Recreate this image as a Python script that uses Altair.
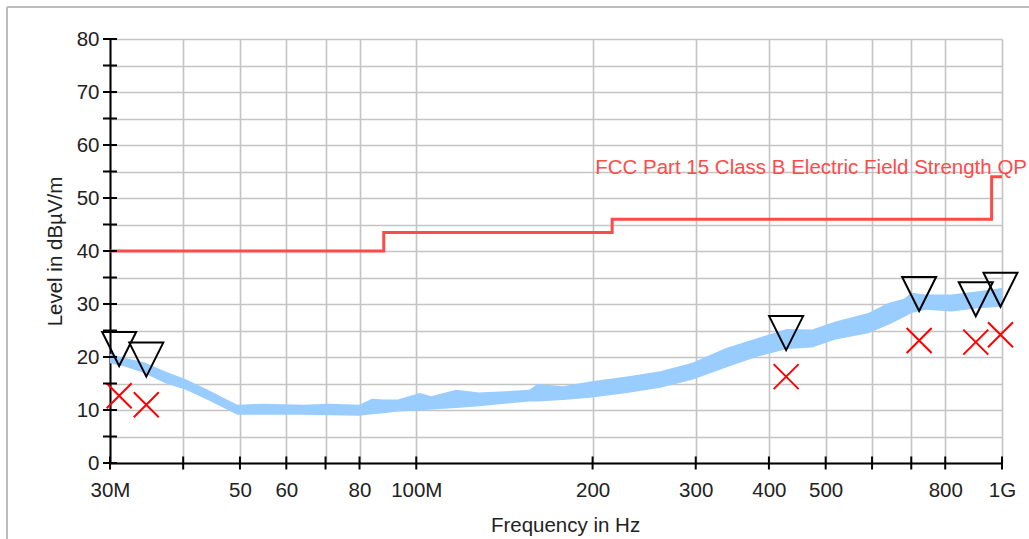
import altair as alt
import pandas as pd

FONT = "Liberation Sans"
FS = 20.5

# axis tick positions
freq_ticks = [30, 40, 50, 60, 70, 80, 100, 200, 300, 400, 500, 600, 700, 800, 1000]
level_ticks = [0, 5, 10, 15, 20, 25, 30, 35, 40, 45, 50, 55, 60, 65, 70, 75, 80]

trace_freq = [30, 31.8, 34.3, 37.2, 40.4, 43.9, 47.5, 49.5, 55, 64, 71, 80, 84, 88, 93, 101.5,
              106, 117, 128, 156, 161, 178, 198, 229, 261, 296, 338, 383, 429, 474, 520, 591,
              640, 680, 700, 741, 820, 911, 1000]
trace_low = [18.8, 18.2, 17.0, 15.1, 13.8, 12.0, 10.1, 9.1, 9.1, 9.1, 9.0, 8.9, 9.2, 9.4, 9.7, 9.9,
             10.1, 10.4, 10.7, 11.6, 11.6, 11.9, 12.3, 13.2, 14.2, 15.7, 18.0, 20.1, 21.5, 21.8, 23.3, 24.5,
             26.1, 27.5, 28.3, 28.9, 28.6, 29.2, 29.5]
trace_high = [20.6, 19.8, 19.0, 17.3, 15.8, 13.9, 12.0, 11.0, 11.2, 11.0, 11.2, 11.0, 12.1, 12.0, 12.0, 13.2,
              12.6, 13.8, 13.3, 13.8, 14.9, 14.5, 15.4, 16.3, 17.3, 18.9, 21.7, 23.6, 25.3, 25.2, 26.7, 28.3,
              30.2, 31.0, 32.1, 31.8, 31.8, 32.4, 33.0]

# limit line
limit_freq = [30, 88, 216, 960, 1000]
limit_level = [40, 43.5, 46, 54, 54]
limit_label = "FCC Part 15 Class B Electric Field Strength QP"

# final measurement markers
marker_freq = [31.1, 34.6, 428, 722, 902, 994]
peak_level = [18.3, 16.3, 21.3, 28.7, 27.7, 29.5]
qp_level = [12.7, 11.0, 16.3, 23.1, 22.8, 24.2]

label_map = {30: "30M", 50: "50", 60: "60", 80: "80", 100: "100M", 200: "200",
             300: "300", 400: "400", 500: "500", 800: "800", 1000: "1G"}
label_expr = " : ".join(
    [f"datum.value == {k} ? '{v}'" for k, v in label_map.items()]) + " : ''"

xscale = alt.Scale(type="log", domain=[30, 1000], nice=False)
yscale = alt.Scale(domain=[0, 80], nice=False, zero=False)

trace_df = pd.DataFrame({"freq": trace_freq, "low": trace_low, "high": trace_high})
limit_df = pd.DataFrame({"freq": limit_freq, "level": limit_level})
mark_df = pd.DataFrame({"freq": marker_freq, "peak": peak_level, "qp": qp_level})
xt_df = pd.DataFrame({"freq": freq_ticks, "level": [0] * len(freq_ticks)})
yt_df = pd.DataFrame({"level": level_ticks, "freq": [30] * len(level_ticks)})
lab_df = pd.DataFrame({"freq": [limit_freq[-1]], "level": [limit_level[-1]], "t": [limit_label]})

x_axis = alt.Axis(values=freq_ticks, labelExpr=label_expr, grid=True, ticks=False,
                  title="Frequency in Hz", labelPadding=17, labelFontSize=FS,
                  titleFontSize=FS, titleFontWeight="normal", labelFont=FONT, titleFont=FONT,
                  labelColor="#222", titleColor="#222", domainColor="black", domainWidth=2,
                  gridColor="#c4c4c4", gridWidth=1.6, labelFlush=False, labelOverlap=False,
                  titleX=455, titleY=68, titleBaseline="alphabetic")
y_axis = alt.Axis(values=level_ticks, labelExpr="datum.value % 10 == 0 ? datum.label : ''",
                  grid=True, ticks=False, title="Level in dBµV/m", labelPadding=11,
                  labelFontSize=FS, titleFontSize=FS, titleFontWeight="normal",
                  labelFont=FONT, titleFont=FONT, labelColor="#222", titleColor="#222",
                  domainColor="black", domainWidth=2, gridColor="#c4c4c4", gridWidth=1.6,
                  labelFlush=False, labelOverlap=False, titleX=-49, titleBaseline="alphabetic")


def X(field):
    return alt.X(field, type="quantitative", scale=xscale, axis=x_axis)


def Y(field):
    return alt.Y(field, type="quantitative", scale=yscale, axis=y_axis)


trace = alt.Chart(trace_df).mark_area(color="#99ccff", opacity=1).encode(
    x=X("freq"), y=Y("high"), y2="low:Q",
)

limit = alt.Chart(limit_df).mark_line(interpolate="step-after", color="#ff4a4a",
                                       strokeWidth=3).encode(x=X("freq"), y=Y("level"))

limit_text = alt.Chart(lab_df).mark_text(align="right", baseline="alphabetic", dx=25, dy=-3,
                                         fontSize=FS, font=FONT, color="#ff4a4a").encode(
    x=X("freq"), y=Y("level"), text="t:N",
)

peaks = alt.Chart(mark_df).mark_point(shape="M-1,-2L1,-2L0,0Z", size=1156, filled=False,
                                      color="black", strokeWidth=2, opacity=1).encode(
    x=X("freq"), y=Y("peak"),
)

qps = alt.Chart(mark_df).mark_point(shape="M-1,-1L1,1M-1,1L1,-1", size=625, filled=False,
                                    color="#ff0000", strokeWidth=2, opacity=1).encode(
    x=X("freq"), y=Y("qp"),
)

xticks = alt.Chart(xt_df).mark_tick(orient="vertical", size=13, thickness=2,
                                    color="black", opacity=1).encode(x=X("freq"), y=Y("level"))

yticks = alt.Chart(yt_df).mark_tick(orient="horizontal", size=14, thickness=2,
                                    color="black", opacity=1).encode(x=X("freq"), y=Y("level"))

frame_top = alt.Chart(alt.Data(values=[{}])).mark_rule(color="#bcbcbc", strokeWidth=2).encode(
    x=alt.value(-103), x2=alt.value(919), y=alt.value(-32))
frame_left = alt.Chart(alt.Data(values=[{}])).mark_rule(color="#bcbcbc", strokeWidth=2).encode(
    x=alt.value(-103), y=alt.value(-32), y2=alt.value(500))

chart = alt.layer(trace, limit, limit_text, peaks, qps, xticks, yticks, frame_top, frame_left).properties(
    width=892, height=424,
    autosize=alt.AutoSizeParams(type="none"),
    padding={"left": 110, "top": 39, "right": 27, "bottom": 76},
    background="white",
).configure_view(strokeWidth=0)

chart.save("out.html", embed_options={"renderer": "svg", "actions": False})
